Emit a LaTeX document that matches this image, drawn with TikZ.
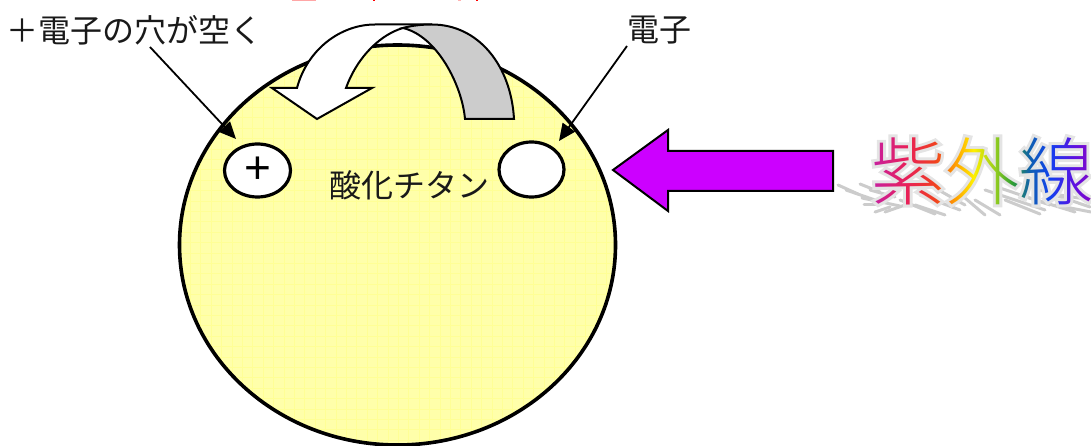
\documentclass[tikz,border=0pt]{standalone}
\usepackage{fontspec}
\usetikzlibrary{arrows.meta,fadings,shadings,shapes.geometric}
\newfontfamily\jp{Noto Sans CJK JP}
\newfontfamily\jpthin{Noto Sans CJK JP Light}
\newfontfamily\jphalo{Noto Sans CJK JP Light}[FakeBold=8]
\setmainfont{Liberation Sans}
\definecolor{balloon}{HTML}{FFFFAA}
\definecolor{gridline}{HTML}{FFFF96}
\definecolor{uvpurple}{HTML}{CC00FF}
\definecolor{foldgray}{HTML}{CCCCCC}
\definecolor{haloc}{HTML}{E4E4E4}
\definecolor{ra}{HTML}{C8209C}
\definecolor{rb}{HTML}{E8205A}
\definecolor{rc}{HTML}{F04020}
\definecolor{rd}{HTML}{FFA000}
\definecolor{re}{HTML}{FFF000}
\definecolor{rf}{HTML}{90CC20}
\definecolor{rg}{HTML}{30A030}
\definecolor{rh}{HTML}{1060B0}
\definecolor{ri}{HTML}{1040F0}
\definecolor{rj}{HTML}{6010E0}
\definecolor{rk}{HTML}{820AC8}
\pgfdeclarehorizontalshading{rainbowuv}{100bp}{
 color(0bp)=(ra);
 color(26bp)=(ra);
 color(33bp)=(rb);
 color(39.4bp)=(rc);
 color(44bp)=(rd);
 color(48bp)=(re);
 color(53bp)=(rf);
 color(56.5bp)=(rg);
 color(60.5bp)=(rh);
 color(65bp)=(ri);
 color(70.5bp)=(rj);
 color(74bp)=(rk);
 color(100bp)=(rk)}
\begin{tikzfadingfrompicture}[name=uvmask]
 \node[text=transparent!0,inner sep=0pt,font=\jpthin\fontsize{74}{74}\selectfont] {紫外線};
\end{tikzfadingfrompicture}
\tikzset{
 lbl/.style={inner sep=0pt,text=black!90,font=\jp\fontsize{32}{32}\selectfont},
 pointer/.style={line width=1.8pt,draw=black,-{Triangle[length=17pt,width=15pt]}},
 hole/.style={ellipse,draw=black,line width=3.2pt,fill=white,inner sep=0pt},
 shadowline/.style={draw=foldgray,line width=3pt,line cap=round},
 block/.style={draw=black,line width=2pt,line join=miter},
}
\begin{document}
\begin{tikzpicture}[x=1pt,y=-1pt]
\useasboundingbox (0,0) rectangle (1091,446);
% grain particle
\path[fill=balloon] (397.5,245) ellipse [x radius=218,y radius=200];
\begin{scope}
 \clip (397.5,245) ellipse [x radius=218,y radius=200];
 \foreach \i in {0,...,42} {\draw[gridline,line width=.7pt] (180+\i*10.4,40) -- (180+\i*10.4,450);}
 \foreach \i in {0,...,40} {\draw[gridline,line width=.7pt] (170,45+\i*10.4) -- (620,45+\i*10.4);}
\end{scope}
\draw[line width=3.6pt] (397.5,245) ellipse [x radius=218,y radius=200];
% labels
\node[lbl,anchor=west] (holetext) at (6,30) {＋電子の穴が空く};
\node[lbl,anchor=west] (etext) at (627,30) {電子};
\node[lbl,anchor=west] (tio) at (329,185) {酸化チタン};
% holes
\node[hole,minimum width=66pt,minimum height=53pt,font=\fontsize{46}{46}\selectfont] (plus) at (257.5,170.5) {+};
\node[hole,minimum width=65pt,minimum height=55pt] (electron) at (531.5,169.5) {};
% pointers
\coordinate (p1s) at (150,47);
\coordinate (p1e) at (236,139);
\coordinate (p2s) at (627,46);
\coordinate (p2e) at (559,141);
\draw[pointer] (p1s) -- (p1e);
\draw[pointer] (p2s) -- (p2e);
% curved arrow
\draw[block,fill=white] (317,119) -- (272,88) -- (297,88)
  .. controls (307,50) and (340,24.5) .. (375,24.5) -- (432,24.5)
  -- (403,28) .. controls (382,34) and (358,55) .. (346,88)
  -- (372,88) -- cycle;
\draw[block,fill=foldgray] (465,119) .. controls (462,85) and (437,36) .. (403,28)
  .. controls (412,25.5) and (422,24.5) .. (432,24.5)
  .. controls (478,24.5) and (511,65) .. (514,119) -- cycle;
% UV arrow
\draw[block,fill=uvpurple] (613,170) -- (668,130) -- (668,151) -- (833,151) -- (833,191) -- (668,191) -- (668,211) -- cycle;
% shadow of the word art
\foreach \a/\b/\c/\d in {838/185/858/194,846/190/875/200,860/184/880/192,862/198/900/206,870/190/895/197,
 864/205/880/205,875/212/890/207,885/212/905/205,900/200/935/214,915/205/945/215,920/195/960/210,935/188/965/205,
 965/198/985/215,975/200/1000/215,985/190/1045/210,1000/188/1050/205,1020/195/1075/212,1040/190/1090/207,
 1060/195/1091/200,1055/205/1091/212,1005/200/1040/214}
 {\draw[shadowline] (\a,\b) -- (\c,\d);}
% halo and rainbow text
\node[inner sep=0pt,text=haloc,font=\jphalo\fontsize{74}{74}\selectfont] (uvhalo) at (982,171) {紫外線};
\shade[shading=rainbowuv,path fading=uvmask,fit fading=false,fading transform={xshift=982pt,yshift=-171pt}] (870,125) rectangle (1095,215);
% clipped title marks
\fill[red!35] (292,0) rectangle (316,1);
\fill[red] (373,0) rectangle (375,1.2);
\fill[red!30] (458,0) rectangle (461,1);
\fill[red] (476,0) rectangle (478,1.2);
\end{tikzpicture}
\end{document}
